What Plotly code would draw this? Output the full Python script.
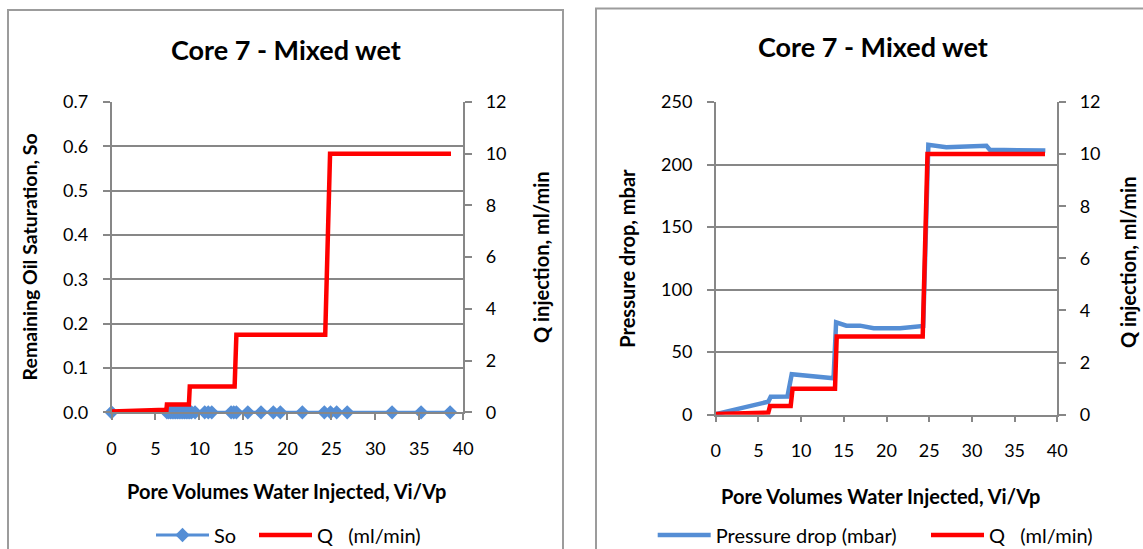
import plotly.graph_objects as go

# ---------------- data ----------------
so_x = [0, 6.3, 6.5, 6.7, 6.9, 7.1, 7.3, 7.5, 7.7, 7.9, 8.1, 8.3, 8.5, 8.7, 8.9, 9.1,
        9.5, 10.6, 11.0, 11.4, 13.6, 13.9, 14.2, 15.5, 17.0, 18.4, 19.2, 21.7, 24.2,
        24.9, 25.6, 26.8, 31.9, 35.2, 38.5]
so_y = [0.0, 0.0, 0.0, 0.0, 0.0, 0.0, 0.0, 0.0, 0.0, 0.0, 0.0, 0.0, 0.0, 0.0, 0.0, 0.0,
        0.0, 0.0, 0.0, 0.0, 0.0, 0.0, 0.0, 0.0, 0.0, 0.0, 0.0, 0.0, 0.0,
        0.0, 0.0, 0.0, 0.0, 0.0, 0.0]

q1_x = [0, 6.25, 6.3, 8.8, 8.9, 14.0, 14.2, 24.3, 24.85, 38.6]
q1_y = [0.03, 0.1, 0.3, 0.3, 1.0, 1.0, 3.0, 3.0, 10.0, 10.0]

dp_x = [0, 6.16, 6.44, 8.4, 8.9, 9.5, 11.4, 13.8, 14.1, 15.3, 16.9, 18.5, 21.6,
        23.9, 24.3, 24.9, 27.0, 31.7, 32.1, 38.6]
dp_y = [0.5, 10.4, 14.4, 14.6, 32.3, 32.0, 30.4, 29.1, 73.9, 71.2, 71.2, 69.1, 69.1,
        71.0, 71.0, 215.8, 213.9, 215.0, 211.8, 211.2]

q2_x = [0, 6.16, 6.36, 8.78, 9.0, 13.97, 14.17, 24.24, 24.8, 38.56]
q2_y = [0.03, 0.08, 0.33, 0.33, 1.0, 1.0, 3.0, 3.0, 10.0, 10.0]

title_text = "Core 7 - Mixed wet"
x_title = "Pore Volumes Water Injected, Vi/Vp"
y_left1 = "Remaining Oil Saturation, So"
y_left2 = "Pressure drop, mbar"
y_right = "Q injection, ml/min"
q_name = "Q\u00a0\u00a0\u00a0(ml/min)"

# ---------------- layout helpers ----------------
W, H = 1143, 549
def px(x):
    return x / W
def py(y):
    return 1 - y / H

BLUE = "#558ED5"
RED = "#FF0000"
GRID = "#878787"
BORDER = "#9C9C9C"
FONT = "Lato"
TICKFONT = dict(family=FONT, size=18, color="black")
LEGFONT = dict(family=FONT, size=20, color="black")

fig = go.Figure()

fig.add_trace(go.Scatter(x=so_x, y=so_y, name="So", mode="lines+markers",
                         line=dict(color=BLUE, width=3),
                         marker=dict(symbol="diamond", size=11, color=BLUE),
                         xaxis="x", yaxis="y", cliponaxis=False, legend="legend"))
fig.add_trace(go.Scatter(x=q1_x, y=q1_y, name=q_name, mode="lines",
                         line=dict(color=RED, width=4.5),
                         xaxis="x", yaxis="y2", cliponaxis=False, legend="legend2"))
fig.add_trace(go.Scatter(x=dp_x, y=dp_y, name="Pressure drop (mbar)", mode="lines",
                         line=dict(color=BLUE, width=4.5),
                         xaxis="x2", yaxis="y3", cliponaxis=False, legend="legend3"))
fig.add_trace(go.Scatter(x=q2_x, y=q2_y, name=q_name, mode="lines",
                         line=dict(color=RED, width=4.5),
                         xaxis="x2", yaxis="y4", cliponaxis=False, legend="legend4"))

common_x = dict(range=[0, 40], tick0=0, dtick=5, showgrid=False, zeroline=False,
                showline=True, linecolor=GRID, linewidth=1.5, ticks="outside",
                ticklen=6, tickcolor=GRID, tickwidth=1.5, tickfont=TICKFONT,
                ticklabelstandoff=13)
common_y = dict(showline=True, linecolor=GRID, linewidth=1.5, ticks="outside",
                ticklen=7, tickcolor=GRID, tickwidth=1.5, tickfont=TICKFONT,
                zeroline=False)
LEFT_SO = 11
RIGHT_SO = 10

d1x = [px(111.5), px(463.3)]
d1y = [py(412.3), py(102)]
d2x = [px(715.7), px(1057.3)]
d2y = [py(414.7), py(102)]

def leg(x):
    return dict(orientation="h", x=px(x), y=py(535), xanchor="left", yanchor="middle",
                font=LEGFONT, bgcolor="rgba(0,0,0,0)", itemwidth=53)

fig.update_layout(
    width=W, height=H, margin=dict(l=0, r=0, t=0, b=0, autoexpand=False),
    paper_bgcolor="white", plot_bgcolor="white",
    font=dict(family=FONT, color="black"),
    showlegend=True,
    xaxis=dict(domain=d1x, anchor="y", **common_x),
    yaxis=dict(domain=d1y, anchor="x", range=[0, 0.7], tickmode="array",
               tickvals=[0, 0.1, 0.2, 0.3, 0.4, 0.5, 0.6, 0.7],
               ticktext=["0.0", "0.1", "0.2", "0.3", "0.4", "0.5", "0.6", "0.7"],
               showgrid=True, gridcolor=GRID, gridwidth=1.5,
               ticklabelstandoff=LEFT_SO, **common_y),
    yaxis2=dict(anchor="x", overlaying="y", side="right", range=[0, 12], dtick=2,
                showgrid=False, ticklabelstandoff=RIGHT_SO, **common_y),
    xaxis2=dict(domain=d2x, anchor="y3", **common_x),
    yaxis3=dict(domain=d2y, anchor="x2", range=[0, 250], dtick=50,
                showgrid=True, gridcolor=GRID, gridwidth=1.5,
                ticklabelstandoff=LEFT_SO, **common_y),
    yaxis4=dict(anchor="x2", overlaying="y3", side="right", range=[0, 12], dtick=2,
                showgrid=False, ticklabelstandoff=RIGHT_SO, **common_y),
    legend=leg(151),
    legend2=leg(254),
    legend3=leg(652.7),
    legend4=leg(926),
)

# chart borders
fig.add_shape(type="rect", xref="paper", yref="paper", x0=px(8), x1=px(563),
              y0=py(570), y1=py(10), line=dict(color=BORDER, width=2), layer="below")
fig.add_shape(type="rect", xref="paper", yref="paper", x0=px(596), x1=px(1170),
              y0=py(570), y1=py(8.5), line=dict(color=BORDER, width=2), layer="below")

def ann(text, x, y, size, bold=True, angle=0):
    fig.add_annotation(text=f"<b>{text}</b>" if bold else text, xref="paper", yref="paper",
                       x=px(x), y=py(y), xanchor="center", yanchor="middle",
                       showarrow=False, textangle=angle,
                       font=dict(family=FONT, size=size, color="black"))

ann(title_text, 285.5, 49, 27)
ann(title_text, 872.6, 46.4, 27)
ann(x_title, 287, 491, 20)
ann(x_title, 880.7, 496, 20)
ann(y_left1, 29, 257.4, 19.5, angle=-90)
ann(y_right, 541, 257, 20, angle=-90)
ann(y_left2, 627.5, 258.2, 20, angle=-90)
ann(y_right, 1127.5, 262.6, 20, angle=-90)

fig.write_html("out.html",
               config={"displayModeBar": False},
               post_script="document.body.style.margin='0px';"
                           "document.body.style.overflow='hidden';")
